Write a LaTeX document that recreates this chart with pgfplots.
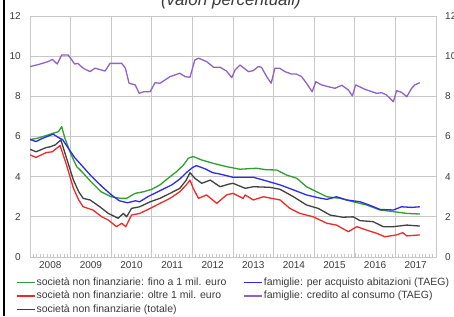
\documentclass[border=0pt]{standalone}
\usepackage{fontspec}
\setmainfont{Liberation Sans}
\usepackage{pgfplots}
\pgfplotsset{compat=1.18}
\definecolor{cgreen}{HTML}{2E9E2E}
\definecolor{cblue}{HTML}{2A2AF0}
\definecolor{cred}{HTML}{F02828}
\definecolor{cblack}{HTML}{404040}
\definecolor{cpurple}{HTML}{8F62C8}
\definecolor{cgrid}{HTML}{C8C8C8}
\definecolor{ctext}{HTML}{3A3A3A}
\begin{document}
\begin{tikzpicture}[x=1pt,y=1pt]
\useasboundingbox (0,0) rectangle (454,316);
\clip (0,0) rectangle (454,316);
\fill[black] (2.5,0) rectangle (5,316);
\node[font=\fontsize{17}{20}\selectfont\itshape, anchor=base, text=ctext] at (231,310) {(valori percentuali)};
\begin{axis}[
  at={(30pt,59pt)}, anchor=south west, scale only axis,
  width=406pt, height=241pt,
  xmin=2008, xmax=2018, ymin=0, ymax=12,
  axis line style={cgrid, line width=0.8pt},
  xtick={2008.5,2009.5,...,2017.5},
  xticklabels={2008,2009,2010,2011,2012,2013,2014,2015,2016,2017},
  extra x ticks={2009,2010,...,2017},
  extra x tick labels={},
  extra x tick style={xmajorgrids=true, major tick length=4pt},
  minor xtick={2008,2008.08333,...,2018},
  minor tick length=3pt,
  xtick pos=bottom, tick align=inside,
  ytick={0,2,...,12},
  ymajorgrids=true,
  grid style={cgrid, line width=0.8pt},
  tick style={cgrid, line width=0.6pt},
  major tick length=0pt,
  ytick pos=left,
  yticklabel style={font=\fontsize{10}{12}\selectfont, text=ctext, inner sep=0pt, anchor=east, xshift=-9pt},
  xticklabel style={font=\fontsize{10}{12}\selectfont, text=ctext, inner sep=0pt, anchor=north, yshift=-4.5pt},
  /pgf/number format/assume math mode=true,
  legend columns=2,
  legend style={at={(-0.042,-0.075)}, anchor=north west, draw=none, fill=none,
    font=\fontsize{10.5}{12}\selectfont, text=ctext,
    nodes={inner xsep=1pt, inner ysep=0pt, text height=8pt, text depth=2.5pt},
    row sep=3pt,
    /tikz/every even column/.append style={column sep=16pt}},
  legend cell align=left,
  legend image code/.code={\draw[#1, line width=1.4pt] (0pt,0pt) -- (18pt,0pt);},
  every axis plot/.append style={line width=1.3pt, line join=round},
]
\addplot[cgreen] coordinates {(2008.0,5.85) (2008.18,5.91) (2008.4,6.05) (2008.57,6.16) (2008.7,6.24) (2008.78,6.49) (2008.86,5.91) (2009.0,5.16) (2009.15,4.5) (2009.3,4.2) (2009.5,3.75) (2009.75,3.25) (2010.0,3.0) (2010.22,2.92) (2010.38,2.92) (2010.59,3.17) (2010.8,3.25) (2011.0,3.37) (2011.2,3.59) (2011.45,4.0) (2011.61,4.25) (2011.78,4.58) (2011.9,4.92) (2012.02,5.0) (2012.23,4.83) (2012.52,4.66) (2012.84,4.5) (2013.17,4.37) (2013.58,4.42) (2013.8,4.35) (2014.08,4.33) (2014.32,4.08) (2014.57,3.92) (2014.81,3.5) (2015.06,3.25) (2015.31,3.0) (2015.64,2.92) (2015.96,2.75) (2016.29,2.59) (2016.62,2.34) (2016.95,2.26) (2017.28,2.17) (2017.6,2.14)};
\addlegendentry{società non finanziarie: fino a 1 mil. euro}
\addplot[cblue] coordinates {(2008.0,5.85) (2008.15,5.75) (2008.3,5.9) (2008.57,6.12) (2008.7,5.95) (2008.8,5.85) (2008.95,5.4) (2009.1,4.95) (2009.3,4.5) (2009.5,4.05) (2009.75,3.55) (2010.0,3.1) (2010.2,2.8) (2010.4,2.7) (2010.6,2.8) (2010.7,2.75) (2010.9,3.0) (2011.1,3.2) (2011.3,3.4) (2011.5,3.6) (2011.7,3.9) (2011.85,4.2) (2012.0,4.45) (2012.1,4.55) (2012.3,4.4) (2012.5,4.2) (2012.68,4.13) (2013.0,3.97) (2013.5,3.97) (2013.75,3.83) (2014.16,3.59) (2014.49,3.34) (2014.81,3.09) (2015.1,2.95) (2015.31,2.87) (2015.55,3.0) (2015.8,2.84) (2016.13,2.75) (2016.35,2.59) (2016.62,2.37) (2016.95,2.34) (2017.15,2.5) (2017.4,2.47) (2017.6,2.5)};
\addlegendentry{famiglie: per acquisto abitazioni (TAEG)}
\addplot[cred] coordinates {(2008.0,5.08) (2008.15,4.96) (2008.4,5.2) (2008.55,5.24) (2008.74,5.55) (2008.9,4.58) (2009.07,3.42) (2009.2,2.84) (2009.31,2.5) (2009.55,2.34) (2009.77,2.0) (2009.93,1.84) (2010.13,1.51) (2010.26,1.68) (2010.36,1.51) (2010.5,2.09) (2010.7,2.17) (2010.96,2.42) (2011.2,2.67) (2011.45,2.92) (2011.69,3.25) (2011.85,3.59) (2011.94,3.83) (2012.02,3.42) (2012.15,2.92) (2012.35,3.09) (2012.6,2.67) (2012.84,3.09) (2013.0,3.17) (2013.25,2.92) (2013.3,3.09) (2013.5,2.84) (2013.75,3.0) (2014.16,2.84) (2014.4,2.42) (2014.65,2.17) (2014.98,2.0) (2015.31,1.68) (2015.55,1.59) (2015.84,1.26) (2016.05,1.51) (2016.29,1.34) (2016.54,1.18) (2016.74,1.01) (2017.03,1.1) (2017.18,1.21) (2017.28,1.05) (2017.6,1.1)};
\addlegendentry{società non finanziarie: oltre 1 mil. euro}
\addplot[cpurple] coordinates {(2008.0,9.48) (2008.2,9.58) (2008.45,9.73) (2008.55,9.84) (2008.67,9.61) (2008.78,10.06) (2008.94,10.06) (2009.1,9.61) (2009.18,9.64) (2009.31,9.4) (2009.48,9.23) (2009.6,9.4) (2009.85,9.26) (2009.97,9.64) (2010.26,9.64) (2010.35,9.4) (2010.44,8.65) (2010.59,8.57) (2010.69,8.15) (2010.8,8.23) (2010.96,8.23) (2011.08,8.68) (2011.2,8.65) (2011.45,8.98) (2011.69,9.15) (2011.82,8.98) (2011.94,8.95) (2012.06,9.81) (2012.15,9.9) (2012.35,9.73) (2012.52,9.45) (2012.68,9.45) (2012.84,9.26) (2012.97,8.93) (2013.05,9.31) (2013.17,9.56) (2013.38,9.23) (2013.5,9.28) (2013.62,9.48) (2013.7,9.45) (2013.83,8.98) (2013.94,8.65) (2014.03,9.4) (2014.15,9.4) (2014.28,9.23) (2014.44,9.11) (2014.56,9.11) (2014.69,8.98) (2014.81,8.65) (2014.95,8.23) (2015.04,8.73) (2015.18,8.57) (2015.35,8.48) (2015.51,8.4) (2015.68,8.55) (2015.84,8.32) (2015.94,8.02) (2016.02,8.57) (2016.25,8.35) (2016.42,8.23) (2016.54,8.15) (2016.66,8.18) (2016.78,8.07) (2016.95,7.73) (2017.03,8.28) (2017.15,8.2) (2017.28,7.98) (2017.4,8.4) (2017.48,8.57) (2017.6,8.68)};
\addlegendentry{famiglie: credito al consumo (TAEG)}
\addplot[cblack] coordinates {(2008.0,5.36) (2008.15,5.24) (2008.4,5.45) (2008.5,5.49) (2008.62,5.58) (2008.76,5.83) (2008.9,4.92) (2009.07,3.83) (2009.2,3.25) (2009.31,2.92) (2009.48,2.84) (2009.72,2.5) (2009.93,2.17) (2010.17,1.93) (2010.3,2.17) (2010.38,2.0) (2010.5,2.42) (2010.7,2.5) (2010.96,2.75) (2011.2,2.92) (2011.45,3.17) (2011.69,3.42) (2011.85,3.83) (2011.94,4.2) (2012.06,3.92) (2012.23,3.67) (2012.44,3.83) (2012.68,3.5) (2012.9,3.63) (2013.0,3.67) (2013.3,3.42) (2013.5,3.5) (2013.91,3.47) (2014.16,3.37) (2014.49,3.0) (2014.81,2.59) (2015.1,2.42) (2015.39,2.09) (2015.7,1.98) (2015.96,2.0) (2016.13,1.81) (2016.45,1.76) (2016.7,1.51) (2016.95,1.51) (2017.28,1.59) (2017.6,1.54)};
\addlegendentry{società non finanziarie (totale)}
\end{axis}
\begin{axis}[
  at={(30pt,59pt)}, anchor=south west, scale only axis,
  width=406pt, height=241pt,
  xmin=2008, xmax=2018, ymin=0, ymax=12,
  axis x line=none, axis y line*=right,
  y axis line style={draw=none},
  ytick={0,2,...,12}, major tick length=0pt,
  yticklabel style={font=\fontsize{10}{12}\selectfont, text=ctext, inner sep=0pt, anchor=west, xshift=9pt},
  /pgf/number format/assume math mode=true,
]
\end{axis}
\end{tikzpicture}
\end{document}
